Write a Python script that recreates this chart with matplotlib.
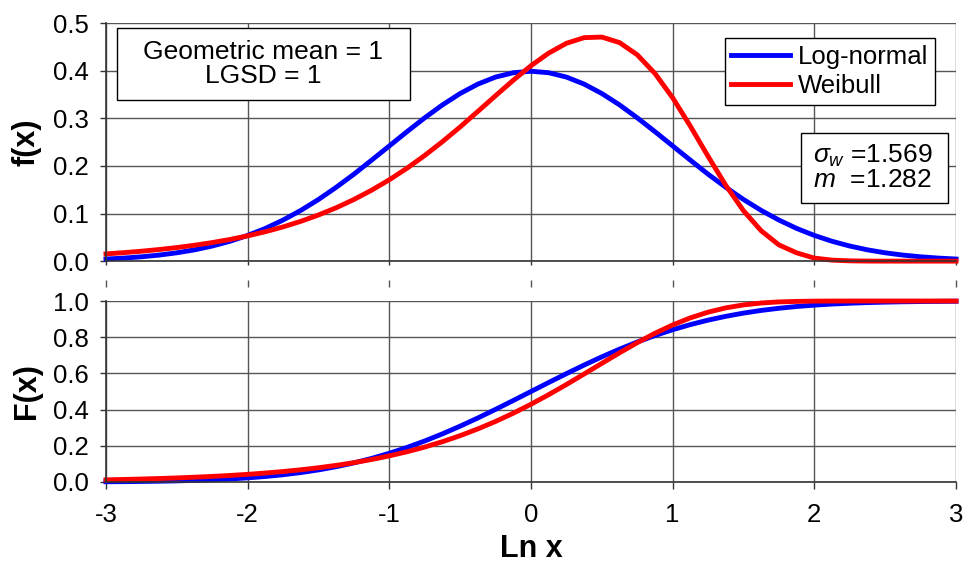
import matplotlib
matplotlib.use('Agg')
import matplotlib.pyplot as plt
from matplotlib.patches import Rectangle

plt.rcParams['font.family'] = ['Liberation Sans', 'DejaVu Sans']
plt.rcParams['mathtext.fontset'] = 'custom'
plt.rcParams['mathtext.it'] = 'Liberation Sans:italic'
plt.rcParams['mathtext.rm'] = 'Liberation Sans'
plt.rcParams['axes.unicode_minus'] = False

# ln x grid (step 0.125)
ln_x = [-3.0, -2.875, -2.75, -2.625, -2.5, -2.375, -2.25, -2.125,
        -2.0, -1.875, -1.75, -1.625, -1.5, -1.375, -1.25, -1.125,
        -1.0, -0.875, -0.75, -0.625, -0.5, -0.375, -0.25, -0.125,
        0.0, 0.125, 0.25, 0.375, 0.5, 0.625, 0.75, 0.875,
        1.0, 1.125, 1.25, 1.375, 1.5, 1.625, 1.75, 1.875,
        2.0, 2.125, 2.25, 2.375, 2.5, 2.625, 2.75, 2.875, 3.0]

# f(x) values
pdf_lognormal = [0.0044, 0.0064, 0.0091, 0.0127, 0.0175, 0.0237, 0.0317, 0.0417,
                 0.0540, 0.0687, 0.0863, 0.1065, 0.1295, 0.1551, 0.1826, 0.2121,
                 0.2420, 0.2720, 0.3011, 0.3282, 0.3521, 0.3719, 0.3867, 0.3958,
                 0.3989, 0.3958, 0.3867, 0.3719, 0.3521, 0.3282, 0.3011, 0.2720,
                 0.2420, 0.2121, 0.1826, 0.1551, 0.1295, 0.1065, 0.0863, 0.0687,
                 0.0540, 0.0417, 0.0317, 0.0237, 0.0175, 0.0127, 0.0091, 0.0064, 0.0044]
pdf_weibull = [0.0152, 0.0178, 0.0208, 0.0244, 0.0285, 0.0334, 0.0390, 0.0455,
               0.0531, 0.0618, 0.0719, 0.0836, 0.0969, 0.1121, 0.1295, 0.1490,
               0.1709, 0.1952, 0.2220, 0.2510, 0.2820, 0.3145, 0.3475, 0.3800,
               0.4105, 0.4371, 0.4576, 0.4695, 0.4707, 0.4591, 0.4335, 0.3942,
               0.3431, 0.2834, 0.2201, 0.1591, 0.1058, 0.0637, 0.0341, 0.0174,
               0.0064, 0.0021, 0.0006, 0.0001, 0.0, 0.0, 0.0, 0.0, 0.0]

# F(x) values
cdf_lognormal = [0.0013, 0.0020, 0.0030, 0.0043, 0.0062, 0.0088, 0.0122, 0.0168,
                 0.0228, 0.0304, 0.0401, 0.0521, 0.0668, 0.0846, 0.1056, 0.1303,
                 0.1587, 0.1908, 0.2266, 0.2660, 0.3085, 0.3538, 0.4013, 0.4503,
                 0.5000, 0.5497, 0.5987, 0.6462, 0.6915, 0.7340, 0.7734, 0.8092,
                 0.8413, 0.8697, 0.8944, 0.9154, 0.9332, 0.9479, 0.9599, 0.9696,
                 0.9772, 0.9832, 0.9878, 0.9912, 0.9938, 0.9957, 0.9970, 0.9980, 0.9987]
cdf_weibull = [0.0119, 0.0140, 0.0164, 0.0192, 0.0225, 0.0264, 0.0309, 0.0361,
               0.0423, 0.0495, 0.0578, 0.0675, 0.0788, 0.0918, 0.1069, 0.1243,
               0.1443, 0.1671, 0.1931, 0.2227, 0.2560, 0.2933, 0.3346, 0.3801,
               0.4296, 0.4826, 0.5385, 0.5966, 0.6555, 0.7137, 0.7697, 0.8216,
               0.8677, 0.9069, 0.9384, 0.9621, 0.9785, 0.9890, 0.9950, 0.9978,
               0.9993, 0.9998, 1.0, 1.0, 1.0, 1.0, 1.0, 1.0, 1.0]

x_ticks = [-3, -2, -1, 0, 1, 2, 3]
pdf_ticks = [0.0, 0.1, 0.2, 0.3, 0.4, 0.5]
cdf_ticks = [0.0, 0.2, 0.4, 0.6, 0.8, 1.0]

BLUE = '#0000FF'
RED = '#FF0000'
GRID = '#555555'
FS = 18.5

fig = plt.figure(figsize=(9.65, 5.64), dpi=100)
ax1 = fig.add_axes([0.1098, 0.537, 0.8809, 0.422])
ax2 = fig.add_axes([0.1098, 0.1454, 0.8809, 0.3209])

for ax, yt in ((ax1, pdf_ticks), (ax2, cdf_ticks)):
    ax.set_xlim(-3, 3)
    ax.set_ylim(yt[0], yt[-1])
    ax.set_xticks(x_ticks)
    ax.set_yticks(yt)
    ax.set_yticklabels([f'{v:.1f}' for v in yt])
    ax.grid(True, color=GRID, lw=1)
    ax.set_axisbelow(True)
    for s in ('top', 'right'):
        ax.spines[s].set_visible(False)
    for s in ('left', 'bottom'):
        ax.spines[s].set_color('#333333')
        ax.spines[s].set_linewidth(1.2)
    ax.tick_params(axis='y', direction='out', length=4.5, width=1, color='#333333',
                   labelsize=FS, pad=8)
    ax.tick_params(axis='x', direction='out', length=5, width=1, color='#333333',
                   labelsize=FS, pad=10)

ax1.tick_params(axis='x', length=3, labelbottom=False)

ax1.plot(ln_x, pdf_lognormal, color=BLUE, lw=3.5, label='Log-normal', clip_on=False)
ax1.plot(ln_x, pdf_weibull, color=RED, lw=3.5, label='Weibull', clip_on=False)
ax2.plot(ln_x, cdf_lognormal, color=BLUE, lw=3.5, clip_on=False)
ax2.plot(ln_x, cdf_weibull, color=RED, lw=3.5, clip_on=False)

# small dashes between the two panels
ax2.vlines(x_ticks, 1.077, 1.116, transform=ax2.get_xaxis_transform(),
           clip_on=False, color='#555555', lw=1)

ax1.set_ylabel('f(x)', fontsize=22, fontweight='bold')
ax2.set_ylabel('F(x)', fontsize=22, fontweight='bold')
ax1.yaxis.set_label_coords(-0.093, 0.5)
ax2.yaxis.set_label_coords(-0.093, 0.5)
ax1.yaxis.label.set_va('center')
ax2.yaxis.label.set_va('center')
ax2.set_xlabel('Ln x', fontsize=22, fontweight='bold')
ax2.xaxis.set_label_coords(0.5, -0.37)
ax2.xaxis.label.set_va('center')

leg = ax1.legend(loc='upper right', bbox_to_anchor=(0.975, 0.937), borderaxespad=0,
                 fancybox=False, edgecolor='black', framealpha=1, fontsize=18.5,
                 handlelength=2.3, handletextpad=0.3, labelspacing=0.22,
                 borderpad=0.25)
leg.get_frame().set_linewidth(1)

# annotation boxes
ax1.add_patch(Rectangle((0.0129, 0.6765), 0.3447, 0.3025, transform=ax1.transAxes,
                        fc='white', ec='black', lw=1, zorder=5))
ax1.text(0.1853, 0.8277, 'Geometric mean = 1\nLGSD = 1', transform=ax1.transAxes,
         ha='center', va='center', fontsize=19, linespacing=1.0, zorder=6)

ax1.add_patch(Rectangle((0.8176, 0.2437), 0.173, 0.2941, transform=ax1.transAxes,
                        fc='white', ec='black', lw=1, zorder=5))
ax1.text(0.8318, 0.393, '$\\sigma_w$ =1.569\n$m$  =1.282', transform=ax1.transAxes,
         ha='left', va='center', fontsize=19, linespacing=0.95, zorder=6)

fig.savefig('out.png', dpi=100)
